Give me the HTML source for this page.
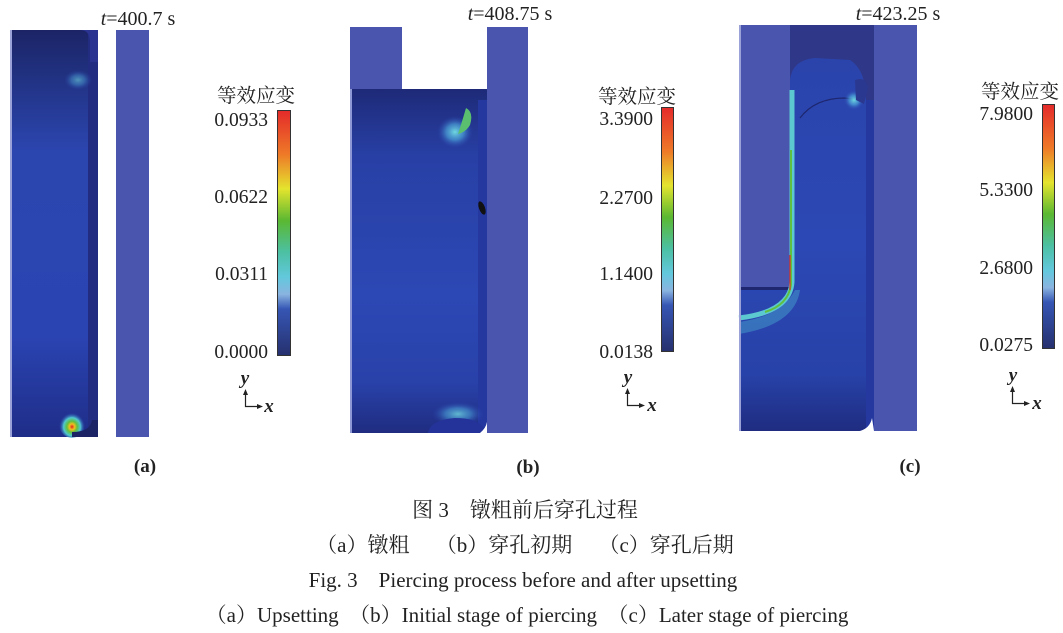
<!DOCTYPE html>
<html><head><meta charset="utf-8">
<style>
html,body{margin:0;padding:0;background:#fff;}
body{width:1063px;height:633px;overflow:hidden;position:relative;}
svg{position:absolute;left:0;top:0;}
.num{font-family:"Liberation Serif",serif;font-size:19.5px;fill:#222;}
.ax{font-family:"Liberation Serif",serif;font-size:19px;fill:#222;font-style:italic;font-weight:bold;}
.cn{font-family:"Liberation Serif","Noto Serif CJK SC",serif;font-size:19.5px;fill:#222;}
.cap{font-family:"Liberation Serif","Noto Serif CJK SC",serif;font-size:21px;fill:#222;}
.t{font-family:"Liberation Serif",serif;font-size:20px;fill:#222;}
.sub{font-family:"Liberation Serif",serif;font-size:19px;fill:#222;font-weight:bold;}
</style></head>
<body>
<svg width="1063" height="633" viewBox="0 0 1063 633" xmlns="http://www.w3.org/2000/svg">
<defs>
  <linearGradient id="cbar" x1="0" y1="0" x2="0" y2="1">
    <stop offset="0" stop-color="#e42a2a"/>
    <stop offset="0.18" stop-color="#ee7a28"/>
    <stop offset="0.32" stop-color="#e4e42e"/>
    <stop offset="0.45" stop-color="#5ab832"/>
    <stop offset="0.58" stop-color="#4cc0a4"/>
    <stop offset="0.68" stop-color="#62c8dc"/>
    <stop offset="0.75" stop-color="#8ab4e0"/>
    <stop offset="0.81" stop-color="#3656b4"/>
    <stop offset="1" stop-color="#26306e"/>
  </linearGradient>
  <linearGradient id="wpA" x1="0" y1="0" x2="0" y2="1">
    <stop offset="0" stop-color="#1c2466"/>
    <stop offset="0.1" stop-color="#20307e"/>
    <stop offset="0.3" stop-color="#2c46b0"/>
    <stop offset="0.75" stop-color="#2a44b2"/>
    <stop offset="1" stop-color="#1f2d88"/>
  </linearGradient>
  <linearGradient id="wpB" x1="0" y1="0" x2="0" y2="1">
    <stop offset="0" stop-color="#1e2a78"/>
    <stop offset="0.2" stop-color="#2840a6"/>
    <stop offset="0.6" stop-color="#2c48b4"/>
    <stop offset="0.85" stop-color="#2942aa"/>
    <stop offset="1" stop-color="#1f2c80"/>
  </linearGradient>
  <linearGradient id="wpC" x1="0" y1="0" x2="0" y2="1">
    <stop offset="0" stop-color="#2a44ac"/>
    <stop offset="0.5" stop-color="#2c48b4"/>
    <stop offset="0.85" stop-color="#2742a8"/>
    <stop offset="1" stop-color="#1f2c80"/>
  </linearGradient>
  <radialGradient id="hot" cx="0.5" cy="0.6" r="0.5">
    <stop offset="0" stop-color="#e02020"/>
    <stop offset="0.2" stop-color="#f0c020"/>
    <stop offset="0.4" stop-color="#60c040"/>
    <stop offset="0.65" stop-color="#50c8d0"/>
    <stop offset="1" stop-color="#2c48b4" stop-opacity="0"/>
  </radialGradient>
  <radialGradient id="glow" cx="0.5" cy="0.5" r="0.5">
    <stop offset="0" stop-color="#70d8e0"/>
    <stop offset="0.5" stop-color="#4aa0d8" stop-opacity="0.7"/>
    <stop offset="1" stop-color="#2c48b4" stop-opacity="0"/>
  </radialGradient>
</defs>

<!-- Panel A -->
<rect x="10" y="30" width="88" height="407" fill="url(#wpA)"/>
<rect x="88" y="30" width="10" height="407" fill="#222d82"/>
<path d="M80 30 Q90 30 90 42 L90 62 L98 62 L98 30 Z" fill="#2a3490"/>
<rect x="10" y="30" width="2" height="407" fill="#9aa2d8"/>
<ellipse cx="78" cy="80" rx="14" ry="10" fill="url(#glow)" opacity="0.6"/>
<ellipse cx="72" cy="424" rx="13" ry="14" fill="url(#hot)"/>
<path d="M72 437 L72 432 Q90 432 92 420 L98 420 L98 437 Z" fill="#1c2466"/>
<rect x="116" y="30" width="33" height="407" fill="#4a56ae"/>

<!-- Panel B -->
<rect x="350" y="27" width="52" height="62" fill="#4a56ae"/>
<rect x="487" y="27" width="41" height="406" fill="#4a56ae"/>
<rect x="350" y="89" width="137" height="344" fill="url(#wpB)"/>
<rect x="478" y="100" width="9" height="333" fill="#2538a0"/>
<rect x="350" y="89" width="2" height="344" fill="#8e98d4"/>
<ellipse cx="455" cy="132" rx="18" ry="16" fill="url(#glow)"/>
<path d="M466 108 Q474 112 470 125 Q466 132 458 134 Q462 122 466 108 Z" fill="#5ac070"/>
<ellipse cx="482" cy="208" rx="3" ry="7" fill="#111" transform="rotate(-20 482 208)"/>
<ellipse cx="458" cy="414" rx="26" ry="12" fill="url(#glow)" opacity="0.8"/>
<path d="M428 433 Q430 420 455 418 Q476 418 482 426 L487 433 Z" fill="#24339a"/>
<path d="M480 433 Q486 428 487 422 L487 433 Z" fill="#fff"/>

<!-- Panel C -->
<rect x="739" y="25" width="178" height="406" fill="#4a56ae"/>
<rect x="790" y="25" width="84" height="85" fill="#2e3788"/>
<path d="M790 80 Q792 60 815 58 L850 60 Q866 70 866 100 L870 420 Q868 431 858 431 L739 431 L739 290 L790 290 Z" fill="url(#wpC)"/>
<path d="M800 118 Q815 98 845 98 L858 100" stroke="#1e2770" stroke-width="1.2" fill="none"/>
<ellipse cx="854" cy="100" rx="10" ry="10" fill="url(#glow)"/>
<path d="M855 80 Q866 76 868 88 L864 104 L856 100 Z" fill="#2a3890"/>
<rect x="739" y="287" width="51" height="3" fill="#1e2770"/>
<path d="M739 322 Q782 316 795 290 L800 290 Q795 325 739 334 Z" fill="#4aa8d0" opacity="0.45"/>
<path d="M792 90 L792 282 Q790 312 739 318" stroke="#5cc8d0" stroke-width="5" fill="none"/>
<path d="M791 150 L791 285 Q788 305 765 312" stroke="#60c040" stroke-width="2" fill="none"/>
<path d="M790 255 L790 290" stroke="#e03020" stroke-width="1.2" fill="none"/>
<rect x="866" y="100" width="8" height="331" fill="#2538a0"/>
<path d="M860 431 Q870 428 872 418 L874 431 Z" fill="#fff"/>
<rect x="739" y="25" width="2" height="406" fill="#9aa2d8"/>

<!-- Titles -->
<text class="t" x="138" y="25" text-anchor="middle"><tspan font-style="italic">t</tspan>=400.7 s</text>
<text class="t" x="510" y="20" text-anchor="middle"><tspan font-style="italic">t</tspan>=408.75 s</text>
<text class="t" x="898" y="20" text-anchor="middle"><tspan font-style="italic">t</tspan>=423.25 s</text>

<!-- Colorbar A -->
<text class="cn" x="256" y="102" text-anchor="middle">等效应变</text>
<rect x="277.5" y="110.5" width="13" height="245" fill="url(#cbar)" stroke="#333" stroke-width="1"/>
<text class="num" x="268" y="126" text-anchor="end">0.0933</text>
<text class="num" x="268" y="203" text-anchor="end">0.0622</text>
<text class="num" x="268" y="280" text-anchor="end">0.0311</text>
<text class="num" x="268" y="358" text-anchor="end">0.0000</text>
<text class="ax" x="245" y="384" text-anchor="middle">y</text>
<path d="M245.5 392 L245.5 406.5 L258 406.5" stroke="#222" stroke-width="1.2" fill="none"/>
<path d="M243 395 L245.5 389 L248 395 Z M257 404 L263 406.5 L257 409 Z" fill="#222"/>
<text class="ax" x="269" y="412" text-anchor="middle">x</text>

<!-- Colorbar B -->
<text class="cn" x="637" y="103" text-anchor="middle">等效应变</text>
<rect x="661.5" y="107.5" width="12" height="244" fill="url(#cbar)" stroke="#333" stroke-width="1"/>
<text class="num" x="653" y="125" text-anchor="end">3.3900</text>
<text class="num" x="653" y="204" text-anchor="end">2.2700</text>
<text class="num" x="653" y="280" text-anchor="end">1.1400</text>
<text class="num" x="653" y="358" text-anchor="end">0.0138</text>
<text class="ax" x="628" y="383" text-anchor="middle">y</text>
<path d="M627.5 391 L627.5 405.5 L640 405.5" stroke="#222" stroke-width="1.2" fill="none"/>
<path d="M625 394 L627.5 388 L630 394 Z M639 403 L645 405.5 L639 408 Z" fill="#222"/>
<text class="ax" x="652" y="411" text-anchor="middle">x</text>

<!-- Colorbar C -->
<text class="cn" x="1020" y="98" text-anchor="middle">等效应变</text>
<rect x="1042.5" y="104.5" width="12" height="244" fill="url(#cbar)" stroke="#333" stroke-width="1"/>
<text class="num" x="1033" y="120" text-anchor="end">7.9800</text>
<text class="num" x="1033" y="196" text-anchor="end">5.3300</text>
<text class="num" x="1033" y="274" text-anchor="end">2.6800</text>
<text class="num" x="1033" y="351" text-anchor="end">0.0275</text>
<text class="ax" x="1013" y="381" text-anchor="middle">y</text>
<path d="M1012.5 389 L1012.5 403.5 L1025 403.5" stroke="#222" stroke-width="1.2" fill="none"/>
<path d="M1010 392 L1012.5 386 L1015 392 Z M1024 401 L1030 403.5 L1024 406 Z" fill="#222"/>
<text class="ax" x="1037" y="409" text-anchor="middle">x</text>

<!-- Sub labels -->
<text class="sub" x="145" y="472" text-anchor="middle">(a)</text>
<text class="sub" x="528" y="473" text-anchor="middle">(b)</text>
<text class="sub" x="910" y="472" text-anchor="middle">(c)</text>

<!-- Captions -->
<text class="cap" x="525" y="517" text-anchor="middle" xml:space="preserve">图 3　镦粗前后穿孔过程</text>
<text class="cap" x="525" y="552" text-anchor="middle" xml:space="preserve">（a）镦粗　 （b）穿孔初期　 （c）穿孔后期</text>
<text class="cap" x="523" y="587" text-anchor="middle" xml:space="preserve">Fig. 3　Piercing process before and after upsetting</text>
<text class="cap" x="527" y="622" text-anchor="middle" xml:space="preserve">（a）Upsetting　（b）Initial stage of piercing　（c）Later stage of piercing</text>
</svg>
</body></html>
